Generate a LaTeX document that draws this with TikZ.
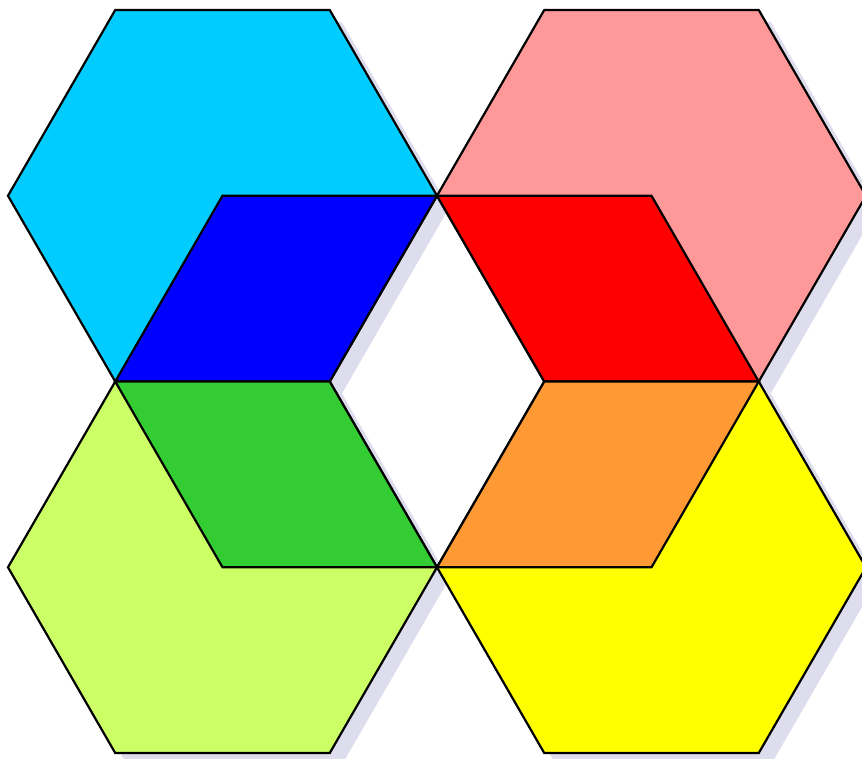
\documentclass[tikz,border=0pt]{standalone}
\definecolor{shadowcol}{RGB}{221,221,238}
\definecolor{hexcyan}{RGB}{0,204,255}
\definecolor{hexpink}{RGB}{255,153,153}
\definecolor{hexlime}{RGB}{204,255,102}
\definecolor{hexyellow}{RGB}{255,255,0}
\definecolor{rhblue}{RGB}{0,0,255}
\definecolor{rhred}{RGB}{255,0,0}
\definecolor{rhgreen}{RGB}{51,204,51}
\definecolor{rhorange}{RGB}{255,153,51}
\tikzset{
  tile/.style={draw=black, line width=2.2pt, line join=miter},
  shade/.style={fill=shadowcol, transform canvas={xshift=12pt,yshift=-12pt}}
}
\begin{document}
\begin{tikzpicture}[x=1pt,y=-1pt]
\useasboundingbox (0,0) rectangle (862,759);
% lattice points
\coordinate (a1) at (115.25,10);   \coordinate (a2) at (329.75,10);
\coordinate (a3) at (544.25,10);   \coordinate (a4) at (758.75,10);
\coordinate (b0) at (8,195.76);    \coordinate (b1) at (222.5,195.76);
\coordinate (b2) at (437,195.76);  \coordinate (b3) at (651.5,195.76);
\coordinate (b4) at (866,195.76);
\coordinate (c1) at (115.25,381.52); \coordinate (c2) at (329.75,381.52);
\coordinate (c3) at (544.25,381.52); \coordinate (c4) at (758.75,381.52);
\coordinate (d0) at (8,567.28);    \coordinate (d1) at (222.5,567.28);
\coordinate (d2) at (437,567.28);  \coordinate (d3) at (651.5,567.28);
\coordinate (d4) at (866,567.28);
\coordinate (e1) at (115.25,753.04); \coordinate (e2) at (329.75,753.04);
\coordinate (e3) at (544.25,753.04); \coordinate (e4) at (758.75,753.04);
% shadows (all beneath the tiles)
\fill[shade] (a1) -- (a2) -- (b2) -- (c2) -- (c1) -- (b0) -- cycle;
\fill[shade] (a3) -- (a4) -- (b4) -- (c4) -- (c3) -- (b2) -- cycle;
\fill[shade] (c1) -- (c2) -- (d2) -- (e2) -- (e1) -- (d0) -- cycle;
\fill[shade] (c3) -- (c4) -- (d4) -- (e4) -- (e3) -- (d2) -- cycle;
\fill[shade] (b1) -- (b2) -- (c2) -- (c1) -- cycle;
\fill[shade] (b2) -- (b3) -- (c4) -- (c3) -- cycle;
\fill[shade] (c1) -- (c2) -- (d2) -- (d1) -- cycle;
\fill[shade] (c3) -- (c4) -- (d3) -- (d2) -- cycle;
% hexagons
\draw[tile, fill=hexcyan] (a1) -- (a2) -- (b2) -- (c2) -- (c1) -- (b0) -- cycle;
\draw[tile, fill=hexpink] (a3) -- (a4) -- (b4) -- (c4) -- (c3) -- (b2) -- cycle;
\draw[tile, fill=hexlime] (c1) -- (c2) -- (d2) -- (e2) -- (e1) -- (d0) -- cycle;
\draw[tile, fill=hexyellow] (c3) -- (c4) -- (d4) -- (e4) -- (e3) -- (d2) -- cycle;
% rhombi
\draw[tile, fill=rhblue] (b1) -- (b2) -- (c2) -- (c1) -- cycle;
\draw[tile, fill=rhred] (b2) -- (b3) -- (c4) -- (c3) -- cycle;
\draw[tile, fill=rhgreen] (c1) -- (c2) -- (d2) -- (d1) -- cycle;
\draw[tile, fill=rhorange] (c3) -- (c4) -- (d3) -- (d2) -- cycle;
\end{tikzpicture}
\end{document}
